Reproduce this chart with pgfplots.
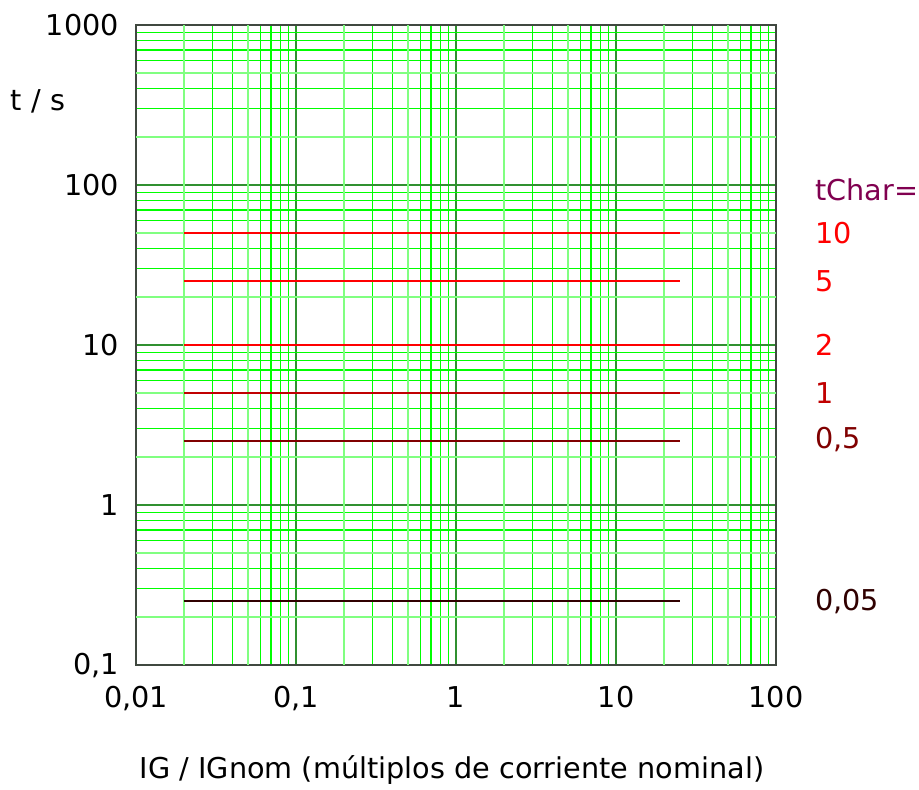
\documentclass[border=0pt]{standalone}
\usepackage{pgfplots}
\pgfplotsset{compat=1.18}
\usepackage{fontspec}
\setmainfont{DejaVu Sans}
\definecolor{majgrid}{HTML}{309030}
\definecolor{mingrid}{HTML}{00FF00}
\definecolor{lightgrid}{HTML}{80FF80}
\definecolor{frame}{HTML}{404840}
\definecolor{cA}{HTML}{FF0000}
\definecolor{cB}{HTML}{C00000}
\definecolor{cC}{HTML}{800000}
\definecolor{cD}{HTML}{300000}
\definecolor{cP}{HTML}{800050}
\newcommand{\lblfont}{\fontsize{14.4}{17}\selectfont}
\begin{document}
\begin{tikzpicture}[x=1bp,y=1bp]
\begin{axis}[
  at={(0,0)}, anchor=south west,
  scale only axis, width=320bp, height=320bp,
  xmode=log, ymode=log,
  xmin=0.01, xmax=100, ymin=0.1, ymax=1000,
  clip=false,
  axis line style={draw=frame, line width=1bp},
  grid=both,
  major grid style={draw=majgrid, line width=1.1bp},
  minor grid style={draw=mingrid, line width=0.75bp},
  major tick length=0pt, minor tick length=0pt,
  xtick={0.01,0.1,1,10,100},
  xticklabels={{0,01},{0,1},{1},{10},{100}},
  ytick={0.1,1,10,100,1000},
  yticklabels={{0,1},{1},{10},{100},{1000}},
  extra x ticks={0.02,0.05,0.2,0.5,2,5,20,50},
  extra x tick labels={},
  extra y ticks={0.2,0.5,2,5,20,50,200,500},
  extra y tick labels={},
  extra tick style={grid=major, major grid style={draw=lightgrid, line width=1bp}},
  tick label style={font=\lblfont},
  xticklabel style={anchor=base, yshift=-21bp},
  yticklabel style={xshift=-5bp},
  axis on top=false,
]
\addplot[cA, line width=1bp] coordinates {(0.02,50) (25,50)};
\addplot[cA, line width=1bp] coordinates {(0.02,25) (25,25)};
\addplot[cA, line width=1bp] coordinates {(0.02,10) (25,10)};
\addplot[cB, line width=1bp] coordinates {(0.02,5) (25,5)};
\addplot[cC, line width=1bp] coordinates {(0.02,2.5) (25,2.5)};
\addplot[cD, line width=1bp] coordinates {(0.02,0.25) (25,0.25)};
\node[anchor=west, text=cP, font=\lblfont, inner sep=0pt] at (axis cs:175,93) {tChar=};
\node[anchor=west, text=cA, font=\lblfont, inner sep=0pt] at (axis cs:175,50) {10};
\node[anchor=west, text=cA, font=\lblfont, inner sep=0pt] at (axis cs:175,25) {5};
\node[anchor=west, text=cA, font=\lblfont, inner sep=0pt] at (axis cs:175,10) {2};
\node[anchor=west, text=cB, font=\lblfont, inner sep=0pt] at (axis cs:175,5) {1};
\node[anchor=west, text=cC, font=\lblfont, inner sep=0pt] at (axis cs:175,2.55) {0,5};
\node[anchor=west, text=cD, font=\lblfont, inner sep=0pt] at (axis cs:175,0.25) {0,05};
\end{axis}
\node[anchor=center, font=\lblfont, inner sep=0pt] at (-49,282) {t / s};
\node[anchor=center, font=\lblfont, inner sep=0pt] at (158,-52.5) {IG / IGnom (múltiplos de corriente nominal)};
\pgfresetboundingbox
\path (-68,-62) rectangle (391.5,332.5);
\end{tikzpicture}
\end{document}
